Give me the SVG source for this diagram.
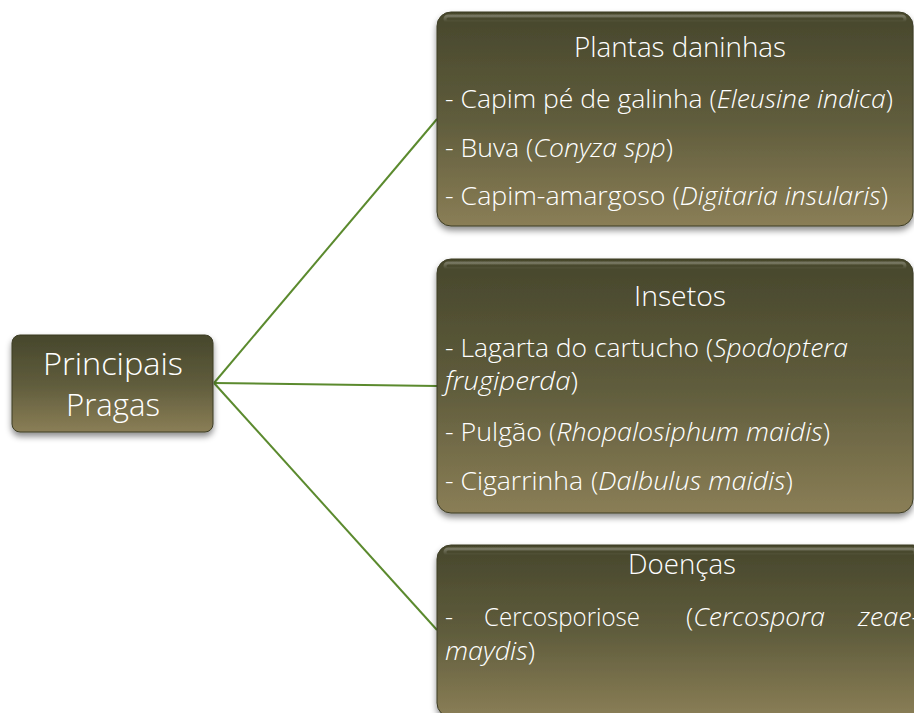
<svg xmlns="http://www.w3.org/2000/svg" width="914" height="713" viewBox="0 0 914 713">
<defs>
<linearGradient id="g" x1="0" y1="0" x2="0" y2="1">
<stop offset="0" stop-color="#47472c"/>
<stop offset="0.5" stop-color="#5f5c3c"/>
<stop offset="1" stop-color="#8a7e56"/>
</linearGradient>
<linearGradient id="hl" x1="0" y1="0" x2="0" y2="1">
<stop offset="0" stop-color="#ffffff" stop-opacity="0.25"/>
<stop offset="1" stop-color="#ffffff" stop-opacity="0"/>
</linearGradient>
<filter id="sh" x="-10%" y="-10%" width="120%" height="130%">
<feDropShadow dx="0" dy="4" stdDeviation="3" flood-color="#000" flood-opacity="0.45"/>
</filter>
</defs>
<style>
.box{fill:url(#g);stroke:#3d3d25;stroke-width:1;filter:url(#sh)}
.hl{fill:none;stroke:url(#hl);stroke-width:3}
.t{font-family:"Open Sans","Liberation Sans",sans-serif;fill:#ffffff;font-weight:300}
.ti{font-size:27px}
.it{font-size:25px}
.root{font-size:32px}
.con{stroke:#5b8a2e;stroke-width:2;fill:none}
</style>
<rect width="914" height="713" fill="#ffffff"/>
<g id="connectors">
<line class="con" x1="214" y1="383" x2="437" y2="119"/>
<line class="con" x1="214" y1="383" x2="437" y2="386"/>
<line class="con" x1="214" y1="383" x2="437" y2="630"/>
</g>
<g id="root">
<rect class="box" x="12" y="335" width="201" height="97" rx="8"/>
<text class="t root" x="43" y="375" textLength="140" lengthAdjust="spacingAndGlyphs">Principais</text>
<text class="t root" x="66" y="416" textLength="94" lengthAdjust="spacingAndGlyphs">Pragas</text>
</g>
<g id="plantas">
<rect class="box" x="437" y="12" width="476" height="214" rx="14"/>
<rect class="hl" x="445" y="16" width="460" height="6" rx="3"/>
<text class="t ti" x="574" y="57" textLength="212" lengthAdjust="spacingAndGlyphs">Plantas daninhas</text>
<text class="t it" x="445" y="108" textLength="448" lengthAdjust="spacingAndGlyphs">- Capim pé de galinha (<tspan font-style="italic">Eleusine indica</tspan>)</text>
<text class="t it" x="445" y="157" textLength="228" lengthAdjust="spacingAndGlyphs">- Buva (<tspan font-style="italic">Conyza spp</tspan>)</text>
<text class="t it" x="445" y="205" textLength="443" lengthAdjust="spacingAndGlyphs">- Capim-amargoso (<tspan font-style="italic">Digitaria insularis</tspan>)</text>
</g>
<g id="insetos">
<rect class="box" x="437" y="259" width="476" height="254" rx="14"/>
<rect class="hl" x="445" y="263" width="460" height="6" rx="3"/>
<text class="t ti" x="634" y="306" textLength="92" lengthAdjust="spacingAndGlyphs">Insetos</text>
<text class="t it" x="445" y="357" textLength="403" lengthAdjust="spacingAndGlyphs">- Lagarta do cartucho (<tspan font-style="italic">Spodoptera</tspan></text>
<text class="t it" x="445" y="390" textLength="133" lengthAdjust="spacingAndGlyphs"><tspan font-style="italic">frugiperda</tspan>)</text>
<text class="t it" x="445" y="441" textLength="385" lengthAdjust="spacingAndGlyphs">- Pulgão (<tspan font-style="italic">Rhopalosiphum maidis</tspan>)</text>
<text class="t it" x="445" y="490" textLength="138" lengthAdjust="spacingAndGlyphs" font-weight="400">- Cigarrinha</text>
<text class="t it" x="591" y="490" textLength="202" lengthAdjust="spacingAndGlyphs">(<tspan font-style="italic">Dalbulus maidis</tspan>)</text>
</g>
<g id="doencas">
<rect class="box" x="437" y="545" width="490" height="172" rx="14"/>
<rect class="hl" x="445" y="549" width="470" height="6" rx="3"/>
<text class="t ti" x="628" y="574" textLength="108" lengthAdjust="spacingAndGlyphs">Doenças</text>
<text class="t it" x="445" y="626">-</text>
<text class="t it" x="484" y="626" textLength="156" lengthAdjust="spacingAndGlyphs">Cercosporiose</text>
<text class="t it" x="686" y="626" textLength="139" lengthAdjust="spacingAndGlyphs">(<tspan font-style="italic">Cercospora</tspan></text>
<text class="t it" x="858" y="626" textLength="62" lengthAdjust="spacingAndGlyphs" font-style="italic">zeae-</text>
<text class="t it" x="445" y="660" textLength="90" lengthAdjust="spacingAndGlyphs"><tspan font-style="italic">maydis</tspan>)</text>
</g>
</svg>
